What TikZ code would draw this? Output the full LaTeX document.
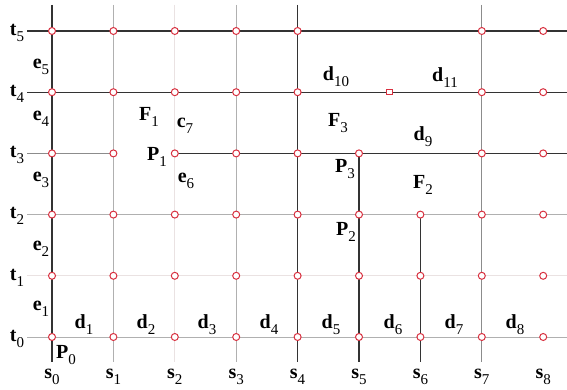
\documentclass[tikz,border=0pt]{standalone}
\usepackage{fontspec}
\usetikzlibrary{calc}
\setmainfont{Liberation Serif}
\newcommand{\lb}[2]{\fontsize{20}{20}\selectfont\textbf{#1}\raisebox{-0.3em}{\fontsize{15}{15}\selectfont #2}}
\definecolor{darkln}{HTML}{333333}
\definecolor{midln}{HTML}{8C8C8C}
\definecolor{lightln}{HTML}{B0B0B0}
\definecolor{faintln}{HTML}{EAE2E2}
\definecolor{ptred}{HTML}{D8303F}
\tikzset{
  darkl/.style={draw=darkln, line width=1.2pt},
  midl/.style={draw=midln, line width=1pt},
  lightl/.style={draw=lightln, line width=0.9pt},
  faintl/.style={draw=faintln, line width=0.8pt},
  gpt/.style={circle, draw=ptred, fill=white, line width=1pt, minimum size=7pt, inner sep=0pt},
  gsq/.style={rectangle, draw=ptred, fill=white, line width=1pt, minimum size=5.5pt, inner sep=0pt},
  lab/.style={inner sep=0pt, text=black}
}
\begin{document}
\begin{tikzpicture}[x=1pt,y=1pt]
\useasboundingbox (0,0) rectangle (567,390);
\fill[white] (0,0) rectangle (567,390);
% grid coordinates
\foreach \i in {0,...,8}{
  \foreach \j in {0,...,5}{
    \coordinate (g\i\j) at ({52+61.4*\i},{53+61.2*\j});
  }
  \coordinate (top\i) at ({52+61.4*\i},385);
  \coordinate (bot\i) at ({52+61.4*\i},28);
}
\foreach \j in {0,...,5}{
  \coordinate (L\j) at (27,{53+61.2*\j});
  \coordinate (R\j) at (567,{53+61.2*\j});
}
% faint / light lines
\draw[faintl] (L1) -- (R1);
\draw[faintl] (top2) -- (bot2);
\draw[lightl] (L0) -- (R0);
\draw[lightl] (L2) -- (R2);
\draw[lightl] (top1) -- (bot1);
\draw[lightl] (top3) -- (bot3);
\draw[midl] (top7) -- (bot7);
\draw[midl] (L3) -- (g13);
% dark lines
\draw[darkl] (L5) -- (R5);
\draw[darkl] (L4) -- (R4);
\draw[darkl] (g23) -- (R3);
\draw[darkl] (top0) -- (bot0);
\draw[darkl] (top4) -- (bot4);
\draw[darkl] (g53) -- (bot5);
\draw[darkl] (g62) -- (bot6);
% points
\foreach \i in {0,...,8}{
  \foreach \j in {0,1,2}{
    \node[gpt] (p\i\j) at (g\i\j) {};
  }
}
\foreach \i in {0,1,2,3,4,5,7,8}{
  \node[gpt] (p\i3) at (g\i3) {};
}
\foreach \i in {0,1,2,3,4,7,8}{
  \node[gpt] (p\i4) at (g\i4) {};
  \node[gpt] (p\i5) at (g\i5) {};
}
\node[gsq] (sq) at ($(g54)!0.5!(g64)$) {};
% t labels
\node[lab] (t5) at (17,357) {\lb{t}{5}};
\node[lab] (t4) at (17,296) {\lb{t}{4}};
\node[lab] (t3) at (17,235) {\lb{t}{3}};
\node[lab] (t2) at (17,174) {\lb{t}{2}};
\node[lab] (t1) at (17,112) {\lb{t}{1}};
\node[lab] (t0) at (17,51) {\lb{t}{0}};
% e labels
\node[lab] (e5) at (41,323) {\lb{e}{5}};
\node[lab] (e4) at (41,271) {\lb{e}{4}};
\node[lab] (e3) at (41,210) {\lb{e}{3}};
\node[lab] (e2) at (41,141) {\lb{e}{2}};
\node[lab] (e1) at (41,81) {\lb{e}{1}};
% s labels
\foreach \i in {0,...,8}{
  \node[lab] (s\i) at ({52+61.4*\i},13) {\lb{s}{\i}};
}
% d labels
\node[lab] (d1) at (84,65) {\lb{d}{1}};
\node[lab] (d2) at (146,65) {\lb{d}{2}};
\node[lab] (d3) at (207,65) {\lb{d}{3}};
\node[lab] (d4) at (269,65) {\lb{d}{4}};
\node[lab] (d5) at (331,65) {\lb{d}{5}};
\node[lab] (d6) at (393,65) {\lb{d}{6}};
\node[lab] (d7) at (454,65) {\lb{d}{7}};
\node[lab] (d8) at (515,65) {\lb{d}{8}};
\node[lab] (d9) at (423,253) {\lb{d}{9}};
\node[lab] (d10) at (336,313) {\lb{d}{10}};
\node[lab] (d11) at (445,312) {\lb{d}{11}};
% other labels
\node[lab] (P0) at (66,35) {\lb{P}{0}};
\node[lab] (P1) at (157,233) {\lb{P}{1}};
\node[lab] (P2) at (346,158) {\lb{P}{2}};
\node[lab] (P3) at (345,221) {\lb{P}{3}};
\node[lab] (F1) at (149,273) {\lb{F}{1}};
\node[lab] (F2) at (423,205) {\lb{F}{2}};
\node[lab] (F3) at (338,267) {\lb{F}{3}};
\node[lab] (c7) at (185,264) {\lb{c}{7}};
\node[lab] (e6) at (186,209) {\lb{e}{6}};
\end{tikzpicture}
\end{document}
